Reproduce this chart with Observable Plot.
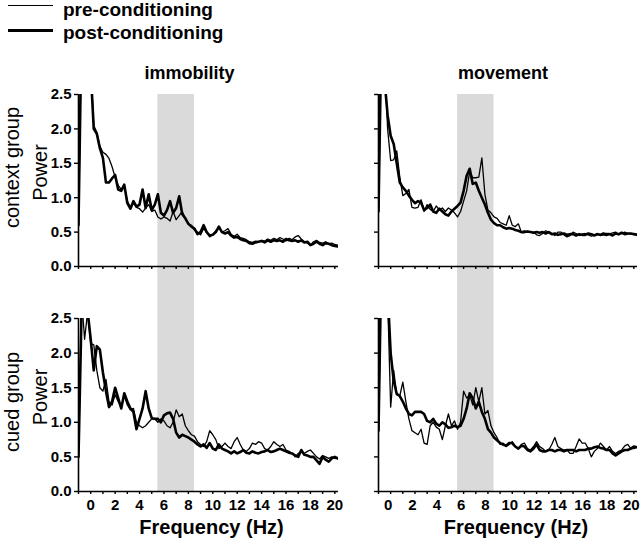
<!DOCTYPE html>
<html>
<head>
<meta charset="utf-8">
<script src="https://cdn.jsdelivr.net/npm/d3@7"></script>
<script src="https://cdn.jsdelivr.net/npm/@observablehq/plot@0.6"></script>
<style>
  body { margin: 0; background: #fff; }
  #chart { position: relative; width: 640px; height: 542px; overflow: hidden; font-family: "Liberation Sans", Arial, sans-serif; background: #fff; }
  .swatch { position: absolute; left: 8px; width: 45px; background: #000; }
  .lgtext { position: absolute; left: 63px; font-size: 19px; font-weight: bold; line-height: 20px; white-space: nowrap; color: #000; }
  g[aria-label="row label"] text { letter-spacing: 1.5px; }
</style>
</head>
<body>
<div id="chart">
  <div class="swatch" style="top:5px;height:1.3px"></div>
  <div class="lgtext" id="lg0" style="top:0px"></div>
  <div class="swatch" style="top:29px;height:2.6px"></div>
  <div class="lgtext" id="lg1" style="top:23px"></div>
</div>
<script>
// ---------- data ----------
const seriesNames = ["pre-conditioning", "post-conditioning"];
const colTitles = ["immobility", "movement"];
const rowTitles = ["context group", "cued group"];
const yLabel = "Power";
const xLabel = "Frequency (Hz)";
const thetaBand = [5.5, 8.5];
const yDomain = [0, 2.5];
const xDomain = [-1, 20.3];
const yTicks = [0, 0.5, 1, 1.5, 2, 2.5];
const xMinorTicks = [-1, 0, 1, 2, 3, 4, 5, 6, 7, 8, 9, 10, 11, 12, 13, 14, 15, 16, 17, 18, 19, 20];
const xLabelTicks = [0, 2, 4, 6, 8, 10, 12, 14, 16, 18, 20];

const freq = [
  -1, -0.75, -0.5, -0.25,
  0, 0.25, 0.5, 0.75,   1, 1.25, 1.5, 1.75,   2, 2.25, 2.5, 2.75,   3, 3.25, 3.5, 3.75,
  4, 4.25, 4.5, 4.75,   5, 5.25, 5.5, 5.75,   6, 6.25, 6.5, 6.75,   7, 7.25, 7.5, 7.75,
  8, 8.25, 8.5, 8.75,   9, 9.25, 9.5, 9.75,   10, 10.25, 10.5, 10.75, 11, 11.25, 11.5, 11.75,
  12, 12.25, 12.5, 12.75, 13, 13.25, 13.5, 13.75, 14, 14.25, 14.5, 14.75, 15, 15.25, 15.5, 15.75,
  16, 16.25, 16.5, 16.75, 17, 17.25, 17.5, 17.75, 18, 18.25, 18.5, 18.75, 19, 19.25, 19.5, 19.75,
  20, 20.25
];

// context group, immobility
const ctxImmPre = [
  0.6, 3.5, 3.5, 3.2,
  2.9, 2.05, 1.95, 1.75,  1.66, 1.63, 1.57, 1.45,  1.3, 1.18, 1.12, 1.18,  0.95, 0.86, 0.92, 0.86,
  0.84, 0.79, 0.85, 0.9,  0.8, 0.82, 0.72, 0.69,  0.72, 0.7, 0.66, 0.8,  0.68, 0.74, 0.8, 0.7,
  0.62, 0.6, 0.53, 0.5,  0.46, 0.55, 0.5, 0.43,  0.47, 0.52, 0.56, 0.5,  0.52, 0.55, 0.47, 0.44,
  0.47, 0.42, 0.41, 0.39,  0.36, 0.35, 0.37, 0.36,  0.38, 0.37, 0.4, 0.38,  0.41, 0.39, 0.42, 0.4,
  0.37, 0.41, 0.39, 0.43,  0.45, 0.4, 0.36, 0.34,  0.31, 0.36, 0.38, 0.35,  0.34, 0.36, 0.33, 0.34,
  0.32, 0.31
];
const ctxImmPost = [
  0.6, 3.5, 3.5, 3.2,
  2.85, 2.0, 1.93, 1.72,  1.58, 1.22, 1.22, 1.28,  1.33, 1.12, 1.1, 1.19,  0.92, 0.84, 0.95, 0.87,
  0.9, 1.12, 0.85, 1.05,  0.82, 0.9, 1.05, 0.78,  0.74, 0.82, 0.95, 0.78,  0.85, 1.02, 0.76, 0.7,
  0.62, 0.58, 0.55, 0.47,  0.5, 0.6, 0.5, 0.45,  0.46, 0.5, 0.58, 0.5,  0.48, 0.5, 0.45, 0.42,
  0.43, 0.4, 0.38, 0.37,  0.34, 0.33, 0.35, 0.36,  0.37, 0.35, 0.38, 0.36,  0.38, 0.37, 0.38, 0.36,
  0.4, 0.38, 0.37, 0.38,  0.36, 0.38, 0.35, 0.36,  0.31, 0.33, 0.36, 0.33,  0.31, 0.34, 0.33, 0.31,
  0.3, 0.29
];
// context group, movement
const ctxMovPre = [
  0.8, 3.5, 3.0, 2.0,
  1.54, 1.55, 1.68, 1.3,  1.03, 1.06, 1.12, 0.86,  0.85, 0.86, 0.97, 0.8,  0.9, 0.83, 0.8, 0.88,
  0.82, 0.85, 0.8, 0.85,  0.82, 0.78, 0.72, 0.8,  0.95, 1.1, 1.38, 1.29,  1.29, 1.3, 1.58, 1.05,
  0.82, 0.78, 0.72, 0.7,  0.64, 0.62, 0.6, 0.74,  0.6, 0.58, 0.62, 0.5,  0.52, 0.5, 0.5, 0.5,
  0.46, 0.45, 0.48, 0.52,  0.5, 0.48, 0.45, 0.5,  0.5, 0.46, 0.43, 0.45,  0.5, 0.48, 0.45, 0.47,
  0.48, 0.46, 0.44, 0.46,  0.48, 0.45, 0.46, 0.45,  0.47, 0.49, 0.5, 0.46,  0.48, 0.5, 0.48, 0.47,
  0.48, 0.47
];
const ctxMovPost = [
  0.8, 3.5, 2.7, 2.2,
  1.9, 1.78, 1.5, 1.22,  1.15, 1.1, 1.03, 0.97,  0.92, 0.95, 0.93, 0.82,  0.85, 0.9, 0.8, 0.78,
  0.84, 0.8, 0.76, 0.74,  0.8, 0.84, 0.88, 0.93,  1.1, 1.32, 1.42, 1.2,  1.22, 1.1, 1.0, 0.9,
  0.78, 0.68, 0.63, 0.6,  0.6, 0.57, 0.55, 0.56,  0.55, 0.53, 0.52, 0.5,  0.5, 0.51, 0.5, 0.49,
  0.5, 0.49, 0.5, 0.48,  0.5, 0.47, 0.48, 0.46,  0.47, 0.48, 0.46, 0.47,  0.47, 0.45, 0.47, 0.46,
  0.46, 0.48, 0.47, 0.45,  0.47, 0.46, 0.48, 0.47,  0.47, 0.45, 0.48, 0.47,  0.49, 0.47, 0.48, 0.48,
  0.47, 0.46
];
// cued group, immobility
const cuedImmPre = [
  0.5, 2.8, 2.2, 2.6,
  2.14, 2.12, 1.75, 1.5,  1.45, 1.62, 1.3, 1.25,  1.4, 1.3, 1.22, 1.38,  1.25, 1.18, 1.2, 1.0,
  0.95, 0.92, 0.95, 1.0,  1.05, 1.05, 1.0, 1.05,  1.02, 0.95, 0.92, 1.0,  1.18, 1.08, 1.12, 0.95,
  0.88, 0.82, 0.8, 0.72,  0.68, 0.65, 0.72, 0.88,  0.82, 0.75, 0.62, 0.65,  0.7, 0.65, 0.62, 0.72,
  0.78, 0.68, 0.6, 0.58,  0.62, 0.7, 0.68, 0.72,  0.7, 0.62, 0.6, 0.65,  0.72, 0.68, 0.65, 0.68,
  0.6, 0.58, 0.55, 0.5,  0.55, 0.58, 0.55, 0.58,  0.6, 0.55, 0.5, 0.47,  0.52, 0.5, 0.48, 0.5,
  0.48, 0.47
];
const cuedImmPost = [
  0.5, 2.6, 3.0, 2.6,
  2.2, 1.75, 2.1, 2.05,  1.72, 1.45, 1.22, 1.3,  1.5, 1.35, 1.2, 1.42,  1.3, 1.2, 1.15, 0.9,
  1.05, 1.2, 1.45, 1.2,  1.06, 1.05, 1.05, 1.0,  1.1, 1.13, 1.14, 1.05,  0.85, 0.78, 0.82, 0.8,
  0.78, 0.75, 0.72, 0.68,  0.65, 0.68, 0.63, 0.7,  0.62, 0.6, 0.68, 0.62,  0.6, 0.58, 0.55, 0.58,
  0.55, 0.57, 0.6, 0.56,  0.55, 0.58, 0.56, 0.55,  0.57, 0.58, 0.6, 0.57,  0.58, 0.6, 0.62, 0.6,
  0.58, 0.56, 0.55, 0.52,  0.5, 0.6, 0.53, 0.52,  0.5, 0.5, 0.45, 0.4,  0.5, 0.46, 0.43, 0.48,
  0.5, 0.48
];
// cued group, movement
const cuedMovPre = [
  0.88, 3.5, 3.5, 2.8,
  1.22, 1.75, 1.4, 1.38,  1.58, 1.3, 1.05, 0.88,  0.85, 0.82, 0.9, 0.7,  0.68, 0.95, 1.0, 0.93,
  0.9, 0.75, 0.95, 1.12,  0.95, 1.02, 0.9, 1.0,  1.45, 1.35, 1.4, 1.25,  1.5, 1.3, 1.5, 1.12,
  1.17, 0.95, 0.85, 0.78,  0.68, 0.7, 0.65, 0.68,  0.72, 0.65, 0.62, 0.68,  0.7, 0.62, 0.6, 0.65,
  0.72, 0.65, 0.62, 0.58,  0.6, 0.68, 0.78, 0.65,  0.62, 0.6, 0.6, 0.55,  0.55, 0.65, 0.76, 0.7,
  0.7, 0.62, 0.5, 0.58,  0.62, 0.7, 0.65, 0.6,  0.65, 0.58, 0.55, 0.58,  0.6, 0.66, 0.68, 0.62,
  0.62, 0.64
];
const cuedMovPost = [
  0.88, 3.5, 3.5, 2.9,
  2.0, 1.6, 1.41, 1.38,  1.3, 1.2, 1.12, 1.1,  1.15, 1.15, 1.15, 1.12,  1.02, 1.0, 1.05, 0.98,
  0.95, 1.0, 0.97, 0.92,  0.93, 0.95, 0.93, 0.95,  1.05, 1.2, 1.42, 1.35,  1.2, 1.3, 1.15, 1.05,
  0.9, 0.85, 0.78, 0.74,  0.7, 0.68, 0.66, 0.7,  0.7, 0.65, 0.62, 0.66,  0.65, 0.6, 0.58, 0.62,
  0.68, 0.6, 0.58, 0.58,  0.6, 0.6, 0.58, 0.6,  0.6, 0.58, 0.6, 0.6,  0.6, 0.58, 0.6, 0.6,
  0.6, 0.62, 0.62, 0.64,  0.65, 0.63, 0.62, 0.6,  0.6, 0.55, 0.52, 0.55,  0.58, 0.6, 0.6, 0.62,
  0.65, 0.64
];

// ---------- drawing ----------
document.getElementById("lg0").textContent = seriesNames[0];
document.getElementById("lg1").textContent = seriesNames[1];

const fmt = d3.format(".1f");

function panel({pre, post, row, col}) {
  const isTop = row === 0;
  const isLeft = col === 0;
  const frameH = isTop ? 172 : 173;
  const mTop = isTop ? 44 : 0;
  const mBottom = isTop ? 52 : 51;
  const marks = [
    Plot.rect([thetaBand], {x1: d => d[0], x2: d => d[1], y1: yDomain[0], y2: yDomain[1],
      fill: "#dadada", insetBottom: isTop ? -mBottom : 0}),
    Plot.ruleY([yDomain[0]], {stroke: "#000", strokeWidth: 1.6}),
    Plot.ruleX([xDomain[0]], {stroke: "#000", strokeWidth: 1.6}),
    Plot.axisX({ticks: xMinorTicks, tickSize: 3, tickFormat: () => "", label: null, strokeWidth: 1.4}),
    Plot.axisY({ticks: yTicks, tickSize: 4, tickPadding: 3, label: null, strokeWidth: 1.4,
      tickFormat: isLeft ? fmt : () => ""}),
    Plot.line(pre, {x: freq, y: pre, stroke: "#000", strokeWidth: 1.3, clip: true}),
    Plot.line(post, {x: freq, y: post, stroke: "#000", strokeWidth: 2.6, clip: true})
  ];
  if (!isTop) {
    marks.push(Plot.axisX({ticks: xLabelTicks, tickSize: 0, tickPadding: 8, label: null,
      dx: isLeft ? 0 : -2.5}));
    marks.push(Plot.text([xLabel], {text: d => d, frameAnchor: "bottom", lineAnchor: "middle",
      textAnchor: "middle", dx: isLeft ? 3 : 8, dy: 36, fontSize: 20, fontWeight: "bold"}));
  }
  if (isTop) {
    marks.push(Plot.text([colTitles[col]], {text: d => d, frameAnchor: "top", lineAnchor: "middle",
      textAnchor: "middle", dx: isLeft ? -19 : -5, dy: -21, fontSize: 18, fontWeight: "bold"}));
  }
  if (isLeft) {
    marks.push(Plot.text([rowTitles[row]], {text: d => d, frameAnchor: "left", rotate: -90,
      textAnchor: "middle", lineAnchor: "middle", ariaLabel: "row label",
      dx: -65.5, dy: isTop ? -13 : -3, fontSize: 20, fontWeight: "normal"}));
    marks.push(Plot.text([yLabel], {text: d => d, frameAnchor: "left", rotate: -90,
      textAnchor: "middle", lineAnchor: "middle",
      dx: -38, dy: -8, fontSize: 20, fontWeight: "normal"}));
  }
  const svg = Plot.plot({
    width: 340,
    height: mTop + frameH + mBottom,
    marginLeft: 78,
    marginRight: isLeft ? 2 : 3,
    marginTop: mTop,
    marginBottom: mBottom,
    x: {domain: xDomain},
    y: {domain: yDomain},
    style: {fontFamily: "'Liberation Sans', Arial, sans-serif", fontSize: "15px", fontWeight: "bold",
      background: "transparent", overflow: "visible", color: "#000"},
    marks
  });
  svg.style.position = "absolute";
  svg.style.left = (isLeft ? 0 : 300) + "px";
  svg.style.top = (isTop ? 50 : 318) + "px";
  document.getElementById("chart").appendChild(svg);
}

panel({pre: ctxImmPre, post: ctxImmPost, row: 0, col: 0});
panel({pre: ctxMovPre, post: ctxMovPost, row: 0, col: 1});
panel({pre: cuedImmPre, post: cuedImmPost, row: 1, col: 0});
panel({pre: cuedMovPre, post: cuedMovPost, row: 1, col: 1});
</script>
</body>
</html>
